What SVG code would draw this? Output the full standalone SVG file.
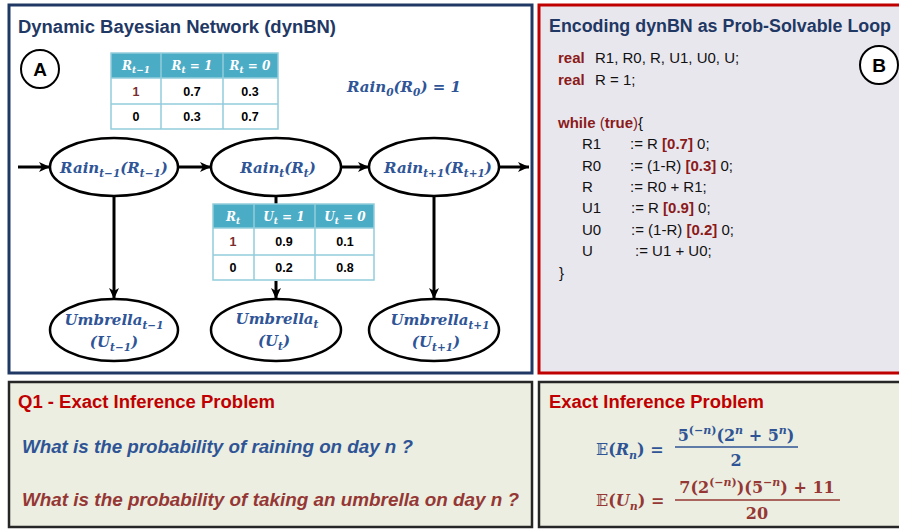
<svg xmlns="http://www.w3.org/2000/svg" width="899" height="529" viewBox="0 0 899 529">
<defs>
<marker id="ah" markerUnits="userSpaceOnUse" markerWidth="12" markerHeight="12" refX="11" refY="6" orient="auto">
<path d="M0,1 L11,6 L0,11 L3,6 z" fill="#000"/>
</marker>
</defs>
<style>
.title{font-family:"Liberation Sans",Arial,sans-serif;font-weight:bold;font-size:18px;fill:#1F3864}
.red{font-family:"Liberation Sans",Arial,sans-serif;font-weight:bold;font-size:18px;fill:#C00000}
.q{font-family:"Liberation Sans",Arial,sans-serif;font-weight:bold;font-style:italic;font-size:18px}
.node{fill:#fff;stroke:#000;stroke-width:2.5}
.nl{font-family:"DejaVu Serif",serif;font-weight:bold;font-style:italic;font-size:15px;fill:#2F5597;text-anchor:middle}
.sub{font-size:10.5px}
.hdr{fill:#4BACC6}
.grid{fill:none;stroke:#92CDDC;stroke-width:1.5}
.ht{font-family:"DejaVu Serif",serif;font-weight:bold;font-style:italic;font-size:12px;fill:#fff;text-anchor:middle}
.ct{font-family:"Liberation Sans",Arial,sans-serif;font-weight:bold;font-size:12.5px;fill:#000;text-anchor:middle}
.code{font-family:"Liberation Sans",Arial,sans-serif;font-size:15px;fill:#111}
.kw{font-weight:bold;fill:#8B1A1A}
.edge{stroke:#000;stroke-width:3;fill:none}
.circ{fill:#fff;stroke:#000;stroke-width:2}
.lab{font-family:"Liberation Sans",Arial,sans-serif;font-weight:bold;font-size:19px;fill:#000;text-anchor:middle}
.math{font-family:"DejaVu Serif",serif;font-weight:bold;font-size:16px}
</style>

<!-- Panels -->
<g id="panelA">
<rect x="9" y="5" width="523" height="368" fill="#fff" stroke="#1F3864" stroke-width="3"/>
<text class="title" x="18" y="33" textLength="318" lengthAdjust="spacingAndGlyphs">Dynamic Bayesian Network (dynBN)</text>
<circle class="circ" cx="40" cy="69" r="19"/>
<text class="lab" x="40" y="76">A</text>
<text class="nl" x="404" y="92">Rain<tspan class="sub" dy="4">0</tspan><tspan dy="-4">(R</tspan><tspan class="sub" dy="4">0</tspan><tspan dy="-4">) = 1</tspan></text>
</g>
<g id="panelB">
<rect x="539" y="5" width="370" height="368" fill="#E9E7EE" stroke="#C00000" stroke-width="3"/>
<text class="title" x="549" y="32" textLength="342" lengthAdjust="spacingAndGlyphs">Encoding dynBN as Prob-Solvable Loop</text>
<circle class="circ" cx="879" cy="65" r="19"/>
<text class="lab" x="879" y="72">B</text>
<g id="code">
<text class="code" y="63"><tspan class="kw" x="558">real</tspan><tspan x="595">R1, R0, R, U1, U0, U;</tspan></text>
<text class="code" y="85"><tspan class="kw" x="558">real</tspan><tspan x="595">R = 1;</tspan></text>
<text class="code" x="558" y="128"><tspan class="kw">while</tspan> <tspan fill="#8B1A1A">(</tspan><tspan class="kw">true</tspan><tspan fill="#8B1A1A">)</tspan>{</text>
<text class="code" y="149"><tspan x="582">R1</tspan><tspan x="630">:= R </tspan><tspan class="kw">[0.7]</tspan> 0;</text>
<text class="code" y="171"><tspan x="582">R0</tspan><tspan x="630">:= (1-R) </tspan><tspan class="kw">[0.3]</tspan> 0;</text>
<text class="code" y="192"><tspan x="582">R</tspan><tspan x="630">:= R0 + R1;</tspan></text>
<text class="code" y="213"><tspan x="582">U1</tspan><tspan x="631">:= R </tspan><tspan class="kw">[0.9]</tspan> 0;</text>
<text class="code" y="235"><tspan x="582">U0</tspan><tspan x="631">:= (1-R) </tspan><tspan class="kw">[0.2]</tspan> 0;</text>
<text class="code" y="256"><tspan x="582">U</tspan><tspan x="635">:= U1 + U0;</tspan></text>
<text class="code" x="559" y="278">}</text>
</g>
</g>
<g id="panelQ1">
<rect x="9" y="382" width="523" height="145" fill="#EBEEE0" stroke="#262626" stroke-width="2.5"/>
<text class="red" x="18" y="408" textLength="257" lengthAdjust="spacingAndGlyphs">Q1 - Exact Inference Problem</text>
<text class="q" x="22" y="453" fill="#2F5496" textLength="391" lengthAdjust="spacingAndGlyphs">What is the probability of raining on day n ?</text>
<text class="q" x="22" y="506" fill="#953735" textLength="497" lengthAdjust="spacingAndGlyphs">What is the probability of taking an umbrella on day n ?</text>
</g>
<g id="panelAnswer">
<rect x="539" y="382" width="370" height="145" fill="#EBEEE0" stroke="#262626" stroke-width="2.5"/>
<text class="red" x="549" y="408" textLength="215" lengthAdjust="spacingAndGlyphs">Exact Inference Problem</text>
<g fill="#2F5496">
<text class="math" x="596" y="455" font-size="17"><tspan font-family="DejaVu Serif, DejaVu Sans, serif" font-weight="normal">𝔼</tspan>(<tspan font-style="italic">R</tspan><tspan font-style="italic" font-size="11" dy="4">n</tspan><tspan dy="-4">) =</tspan></text>
<text class="math" x="736" y="441" text-anchor="middle">5<tspan font-size="11" dy="-7">(−<tspan font-style="italic">n</tspan>)</tspan><tspan dy="7">(2</tspan><tspan font-size="11" font-style="italic" dy="-7">n</tspan><tspan dy="7"> + 5</tspan><tspan font-size="11" font-style="italic" dy="-7">n</tspan><tspan dy="7">)</tspan></text>
<line x1="675" y1="447" x2="798" y2="447" stroke="#2F5496" stroke-width="1.5"/>
<text class="math" x="736" y="466" text-anchor="middle">2</text>
</g>
<g fill="#953735">
<text class="math" x="596" y="506" font-size="17"><tspan font-family="DejaVu Serif, DejaVu Sans, serif" font-weight="normal">𝔼</tspan>(<tspan font-style="italic">U</tspan><tspan font-style="italic" font-size="11" dy="4">n</tspan><tspan dy="-4">) =</tspan></text>
<text class="math" x="757" y="493" text-anchor="middle">7(2<tspan font-size="11" dy="-7">(−<tspan font-style="italic">n</tspan>)</tspan><tspan dy="7">)(5</tspan><tspan font-size="11" dy="-7">−<tspan font-style="italic">n</tspan></tspan><tspan dy="7">) + 11</tspan></text>
<line x1="675" y1="500" x2="840" y2="500" stroke="#953735" stroke-width="1.5"/>
<text class="math" x="757" y="519" text-anchor="middle">20</text>
</g>
</g>

<!-- Connectors -->
<g id="connectors">
<line class="edge" x1="18" y1="167" x2="50" y2="167" marker-end="url(#ah)"/>
<line class="edge" x1="178" y1="167" x2="211" y2="167" marker-end="url(#ah)"/>
<line class="edge" x1="341" y1="167" x2="369" y2="167" marker-end="url(#ah)"/>
<line class="edge" x1="499" y1="167" x2="529" y2="167" marker-end="url(#ah)"/>
<line class="edge" x1="114" y1="196" x2="114" y2="299" marker-end="url(#ah)"/>
<line class="edge" x1="276" y1="196" x2="276" y2="204"/>
<line class="edge" x1="276" y1="281" x2="276" y2="299" marker-end="url(#ah)"/>
<line class="edge" x1="434" y1="196" x2="434" y2="299" marker-end="url(#ah)"/>
</g>

<!-- CPT tables -->
<g id="cpt-rain">
<rect class="hdr" x="111" y="53" width="167" height="25"/>
<rect class="grid" x="111" y="53" width="167" height="76"/>
<path class="grid" d="M111,78 H278 M111,104 H278 M161,53 V129 M223,53 V129"/>
<text class="ht" x="136" y="70">R<tspan font-size="9" dy="3">t−1</tspan></text>
<text class="ht" x="192" y="70">R<tspan font-size="9" dy="3">t</tspan><tspan dy="-3"> = 1</tspan></text>
<text class="ht" x="250" y="70">R<tspan font-size="9" dy="3">t</tspan><tspan dy="-3"> = 0</tspan></text>
<text class="ct" x="136" y="96" fill="#7B2C2C" style="fill:#7B2C2C">1</text>
<text class="ct" x="192" y="96">0.7</text>
<text class="ct" x="250" y="96">0.3</text>
<text class="ct" x="136" y="121">0</text>
<text class="ct" x="192" y="121">0.3</text>
<text class="ct" x="250" y="121">0.7</text>
</g>
<g id="cpt-umbrella">
<rect class="hdr" x="213" y="204" width="161" height="24"/>
<rect class="grid" x="213" y="204" width="161" height="76"/>
<path class="grid" d="M213,228 H374 M213,255 H374 M254,204 V280 M315,204 V280"/>
<text class="ht" x="233" y="221">R<tspan font-size="9" dy="3">t</tspan></text>
<text class="ht" x="284" y="221">U<tspan font-size="9" dy="3">t</tspan><tspan dy="-3"> = 1</tspan></text>
<text class="ht" x="345" y="221">U<tspan font-size="9" dy="3">t</tspan><tspan dy="-3"> = 0</tspan></text>
<text class="ct" x="233" y="246" style="fill:#7B2C2C">1</text>
<text class="ct" x="284" y="246">0.9</text>
<text class="ct" x="345" y="246">0.1</text>
<text class="ct" x="233" y="272">0</text>
<text class="ct" x="284" y="272">0.2</text>
<text class="ct" x="345" y="272">0.8</text>
</g>

<!-- Nodes -->
<g id="rain-prev">
<ellipse class="node" cx="114" cy="167" rx="64" ry="29"/>
<text class="nl" x="114" y="173">Rain<tspan class="sub" dy="4">t−1</tspan><tspan dy="-4">(R</tspan><tspan class="sub" dy="4">t−1</tspan><tspan dy="-4">)</tspan></text>
</g>
<g id="rain-t">
<ellipse class="node" cx="276" cy="167" rx="65" ry="29"/>
<text class="nl" x="278" y="173">Rain<tspan class="sub" dy="4">t</tspan><tspan dy="-4">(R</tspan><tspan class="sub" dy="4">t</tspan><tspan dy="-4">)</tspan></text>
</g>
<g id="rain-next">
<ellipse class="node" cx="434" cy="167" rx="65" ry="29"/>
<text class="nl" x="438" y="173">Rain<tspan class="sub" dy="4">t+1</tspan><tspan dy="-4">(R</tspan><tspan class="sub" dy="4">t+1</tspan><tspan dy="-4">)</tspan></text>
</g>
<g id="umbrella-prev">
<ellipse class="node" cx="114" cy="330" rx="64" ry="31"/>
<text class="nl" x="114" y="325">Umbrella<tspan class="sub" dy="4">t−1</tspan></text>
<text class="nl" x="114" y="347">(U<tspan class="sub" dy="4">t−1</tspan><tspan dy="-4">)</tspan></text>
</g>
<g id="umbrella-t">
<ellipse class="node" cx="276" cy="330" rx="65" ry="31"/>
<text class="nl" x="277" y="324">Umbrella<tspan class="sub" dy="4">t</tspan></text>
<text class="nl" x="274" y="346">(U<tspan class="sub" dy="4">t</tspan><tspan dy="-4">)</tspan></text>
</g>
<g id="umbrella-next">
<ellipse class="node" cx="434" cy="330" rx="65" ry="31"/>
<text class="nl" x="440" y="325">Umbrella<tspan class="sub" dy="4">t+1</tspan></text>
<text class="nl" x="436" y="347">(U<tspan class="sub" dy="4">t+1</tspan><tspan dy="-4">)</tspan></text>
</g>
</svg>
